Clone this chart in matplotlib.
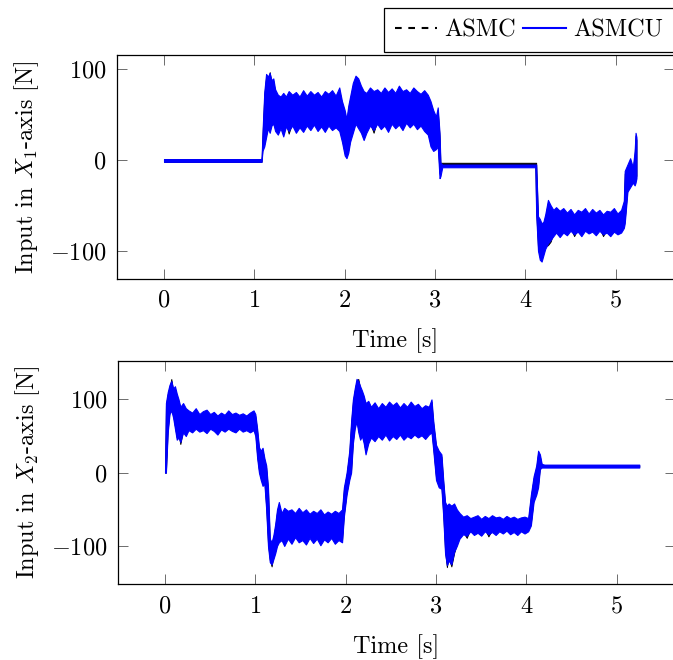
import matplotlib
matplotlib.use('Agg')
import matplotlib.pyplot as plt
from matplotlib.lines import Line2D

plt.rcParams['font.family'] = 'serif'
plt.rcParams['font.serif'] = ['cmr10']
plt.rcParams['mathtext.fontset'] = 'cm'
plt.rcParams['axes.formatter.use_mathtext'] = True
plt.rcParams['axes.unicode_minus'] = True

# ---------------- data (band envelopes) ----------------
# Top panel: input in X1-axis [N]
t_top = [0.00, 1.07, 1.08, 1.09, 1.11,
         1.13, 1.15, 1.17, 1.19, 1.21,
         1.23, 1.26, 1.29, 1.32, 1.35,
         1.38, 1.42, 1.46, 1.50, 1.54,
         1.58, 1.62, 1.66, 1.70, 1.74,
         1.78, 1.82, 1.86, 1.90, 1.94,
         1.97, 2.00, 2.02, 2.04, 2.06,
         2.09, 2.12, 2.15, 2.18, 2.21,
         2.24, 2.28, 2.32, 2.36, 2.40,
         2.44, 2.48, 2.52, 2.56, 2.60,
         2.64, 2.68, 2.72, 2.76, 2.80,
         2.84, 2.88, 2.92, 2.95, 2.98,
         3.01, 3.03, 3.05, 3.06, 3.08,
         4.11, 4.12, 4.14, 4.16, 4.18,
         4.20, 4.22, 4.25, 4.28, 4.31,
         4.34, 4.38, 4.42, 4.46, 4.50,
         4.54, 4.58, 4.62, 4.66, 4.70,
         4.74, 4.78, 4.82, 4.86, 4.90,
         4.94, 4.98, 5.02, 5.06, 5.09,
         5.10, 5.13, 5.16, 5.19, 5.21,
         5.22, 5.23]

asmcu_top_lo = [-2, -2, -2, 10, 15,
                25, 35, 30, 38, 40,
                32, 28, 35, 26, 37,
                32, 38, 30, 36, 31,
                38, 33, 39, 32, 37,
                31, 38, 33, 36, 32,
                20, 5, 2, 8, 20,
                30, 40, 35, 30, 22,
                30, 38, 33, 40, 34,
                38, 31, 40, 35, 39,
                33, 41, 36, 40, 34,
                38, 32, 28, 15, 10,
                12, 15, -20, -18, -8,
                -8, -60, -100, -110, -112,
                -105, -98, -92, -88, -84,
                -80, -85, -80, -83, -78,
                -82, -79, -84, -78, -81,
                -79, -83, -78, -82, -80,
                -84, -79, -82, -80, -75,
                -70, -35, -30, -25, -28,
                -25, -20]
asmcu_top_hi = [1, 1, 1, 30, 75,
                95, 92, 96, 88, 90,
                78, 72, 70, 74, 70,
                76, 72, 75, 70, 77,
                71, 76, 72, 75, 70,
                76, 73, 77, 71, 80,
                65, 55, 45, 60, 70,
                85, 93, 90, 82, 76,
                74, 80, 76, 78, 74,
                80, 75, 79, 74, 82,
                76, 78, 74, 80, 76,
                73, 77, 72, 65, 55,
                48, 58, 30, -3, -5,
                -5, -5, -62, -65, -70,
                -68, -60, -44, -50, -55,
                -52, -56, -53, -58, -54,
                -60, -55, -57, -53, -59,
                -54, -58, -55, -60, -56,
                -57, -53, -59, -55, -45,
                -12, -5, 2, -8, 10,
                30, 25]
asmc_top_lo = [-2, -2, -2, 12, 18,
               28, 38, 33, 41, 43,
               35, 31, 38, 29, 40,
               29, 41, 33, 39, 34,
               41, 36, 42, 35, 40,
               34, 41, 36, 39, 35,
               23, 8, 5, 11, 23,
               33, 43, 38, 33, 25,
               33, 41, 30, 43, 37,
               41, 34, 43, 38, 42,
               36, 44, 39, 43, 37,
               41, 35, 31, 18, 13,
               15, 18, -15, -8, -5,
               -5, -57, -97, -107, -109,
               -102, -95, -94, -90, -81,
               -77, -82, -77, -80, -75,
               -84, -76, -81, -75, -78,
               -76, -80, -75, -84, -77,
               -81, -76, -79, -77, -72,
               -67, -32, -27, -22, -25,
               -22, -17]
asmc_top_hi = [1, 1, 1, 27, 72,
               92, 89, 97, 85, 87,
               75, 69, 67, 71, 67,
               73, 69, 72, 67, 74,
               68, 73, 69, 72, 67,
               73, 70, 74, 68, 77,
               62, 52, 42, 57, 67,
               82, 90, 87, 79, 73,
               71, 77, 73, 75, 71,
               77, 72, 76, 71, 79,
               73, 75, 71, 77, 73,
               70, 74, 69, 62, 52,
               45, 55, 27, -3, -3,
               -3, -3, -65, -68, -73,
               -71, -63, -47, -53, -58,
               -55, -59, -56, -61, -57,
               -63, -58, -60, -56, -62,
               -57, -61, -58, -63, -59,
               -60, -56, -62, -58, -48,
               -15, -8, -1, -11, 7,
               27, 22]

# Bottom panel: input in X2-axis [N]
t_bot = [0.00, 0.01, 0.03, 0.05, 0.07,
         0.09, 0.11, 0.13, 0.15, 0.17,
         0.20, 0.23, 0.26, 0.30, 0.34,
         0.38, 0.42, 0.46, 0.50, 0.54,
         0.58, 0.62, 0.66, 0.70, 0.74,
         0.78, 0.82, 0.86, 0.90, 0.94,
         0.98, 1.00, 1.02, 1.04, 1.06,
         1.08, 1.10, 1.12, 1.14, 1.16,
         1.18, 1.20, 1.22, 1.24, 1.26,
         1.29, 1.32, 1.36, 1.40, 1.44,
         1.48, 1.52, 1.56, 1.60, 1.64,
         1.68, 1.72, 1.76, 1.80, 1.84,
         1.88, 1.92, 1.96, 1.98, 2.01,
         2.04, 2.06, 2.08, 2.10, 2.12,
         2.14, 2.16, 2.18, 2.20, 2.22,
         2.25, 2.28, 2.32, 2.36, 2.40,
         2.44, 2.48, 2.52, 2.56, 2.60,
         2.64, 2.68, 2.72, 2.76, 2.80,
         2.84, 2.88, 2.92, 2.95, 2.97,
         3.00, 3.03, 3.06, 3.08, 3.10,
         3.12, 3.14, 3.17, 3.20, 3.23,
         3.26, 3.30, 3.34, 3.38, 3.42,
         3.46, 3.50, 3.54, 3.58, 3.62,
         3.66, 3.70, 3.74, 3.78, 3.82,
         3.86, 3.90, 3.94, 3.98, 4.02,
         4.05, 4.08, 4.11, 4.13, 4.15,
         4.17, 4.20, 5.25]

asmcu_bot_lo = [0, 0, 55, 80, 85,
                75, 60, 45, 48, 42,
                55, 50, 58, 55, 60,
                56, 58, 54, 60, 57,
                52, 59, 56, 60, 57,
                55, 60, 56, 58, 55,
                58, 50, 20, 0, -10,
                -18, -15, -50, -100, -122,
                -125, -118, -110, -100, -95,
                -92, -100, -90, -97, -88,
                -95, -92, -98, -89, -96,
                -90, -99, -91, -95, -89,
                -97, -92, -95, -60, -30,
                -10, 0, 40, 60, 70,
                55, 45, 50, 40, 25,
                40, 48, 43, 50, 45,
                52, 44, 50, 46, 52,
                45, 50, 47, 52, 48,
                51, 46, 52, 55, 30,
                -10, -20, -22, -60, -110,
                -126, -120, -125, -108, -100,
                -90, -84, -86, -80, -85,
                -82, -86, -80, -84, -81,
                -85, -80, -83, -79, -84,
                -81, -85, -80, -83, -80,
                -72, -40, -30, -20, 5,
                7, 7, 7]
asmcu_bot_hi = [0, 95, 110, 120, 125,
                115, 118, 108, 100, 90,
                95, 88, 85, 82, 88,
                80, 84, 86, 80, 83,
                78, 82, 79, 85, 80,
                82, 79, 81, 78, 82,
                85, 80, 60, 35, 30,
                34, 20, 10, -20, -90,
                -95, -85, -70, -50, -40,
                -55, -48, -52, -50, -55,
                -48, -54, -50, -56, -52,
                -55, -50, -57, -53, -56,
                -52, -55, -50, -20, 0,
                30, 70, 100, 115, 128,
                125, 118, 112, 105, 95,
                98, 90, 96, 88, 95,
                90, 97, 92, 96, 89,
                95, 90, 97, 91, 94,
                88, 92, 90, 100, 70,
                38, 30, 25, -10, -40,
                -45, -42, -45, -42, -50,
                -55, -60, -58, -62, -60,
                -58, -63, -59, -62, -58,
                -61, -60, -63, -59, -62,
                -60, -63, -61, -60, -62,
                -30, -5, 10, 30, 25,
                12, 11, 11]
asmc_bot_lo = [0, 0, 58, 83, 88,
               78, 63, 48, 51, 39,
               58, 53, 61, 58, 63,
               59, 61, 57, 63, 60,
               55, 62, 59, 63, 60,
               58, 63, 59, 61, 58,
               61, 53, 23, 3, -7,
               -15, -12, -47, -97, -119,
               -128, -115, -107, -97, -92,
               -89, -97, -87, -94, -85,
               -92, -89, -95, -86, -93,
               -87, -96, -88, -92, -86,
               -94, -89, -92, -57, -27,
               -7, 3, 43, 63, 73,
               58, 48, 53, 43, 28,
               43, 51, 46, 53, 48,
               55, 47, 53, 49, 55,
               48, 53, 50, 55, 51,
               54, 49, 55, 58, 33,
               -7, -17, -19, -57, -107,
               -129, -117, -128, -110, -97,
               -87, -81, -89, -77, -82,
               -79, -83, -77, -87, -78,
               -82, -77, -80, -76, -81,
               -78, -82, -77, -80, -77,
               -69, -37, -27, -17, 7,
               8, 8, 8]
asmc_bot_hi = [0, 92, 107, 117, 128,
               112, 115, 105, 97, 87,
               92, 85, 82, 79, 85,
               77, 81, 83, 77, 80,
               75, 79, 76, 82, 77,
               79, 76, 78, 75, 79,
               82, 77, 57, 32, 27,
               31, 17, 7, -23, -93,
               -98, -88, -73, -53, -43,
               -58, -51, -55, -53, -58,
               -51, -57, -53, -59, -55,
               -58, -53, -60, -56, -59,
               -55, -58, -53, -23, -3,
               27, 67, 97, 112, 125,
               128, 115, 109, 102, 92,
               95, 87, 93, 85, 92,
               87, 94, 89, 93, 86,
               92, 87, 94, 88, 91,
               85, 89, 87, 97, 67,
               35, 27, 22, -13, -43,
               -48, -45, -48, -45, -53,
               -58, -63, -61, -65, -63,
               -61, -66, -62, -65, -61,
               -64, -63, -66, -62, -65,
               -63, -66, -64, -63, -65,
               -33, -8, 7, 27, 22,
               10, 10, 10]

x_ticks = [0, 1, 2, 3, 4, 5]
top_yticks = [-100, 0, 100]
bot_yticks = [-100, 0, 100]
series_names = ['ASMC', 'ASMCU']
panel_ylabels = [r'Input in $X_1$-axis [N]', r'Input in $X_2$-axis [N]']

# ---------------- figure ----------------
W, H = 673, 660
fig = plt.figure(figsize=(W / 100, H / 100), dpi=100)

ax1 = fig.add_axes([117.3 / W, (H - 278.7) / H, (673.5 - 117.3) / W, (278.7 - 55) / H])
ax2 = fig.add_axes([118.3 / W, (H - 584.3) / H, (674.5 - 118.3) / W, (584.3 - 360.7) / H])

BLUE = '#0000ff'
FS = 17.5

panels = [
    (ax1, t_top, asmc_top_lo, asmc_top_hi, asmcu_top_lo, asmcu_top_hi, (-130.9, 115.8), top_yticks),
    (ax2, t_bot, asmc_bot_lo, asmc_bot_hi, asmcu_bot_lo, asmcu_bot_hi, (-152.3, 152.8), bot_yticks),
]

for i, (ax, t, alo, ahi, ulo, uhi, ylim, yt) in enumerate(panels):
    ax.fill_between(t, alo, ahi, color='black', linewidth=0.6, zorder=2)
    ax.fill_between(t, ulo, uhi, color=BLUE, linewidth=0.8, zorder=3)
    ax.set_xlim(-0.517, 5.64)
    ax.set_ylim(*ylim)
    ax.set_xticks(x_ticks)
    ax.set_yticks(yt)
    ax.tick_params(direction='in', top=True, right=True, length=7.5, width=0.6,
                   labelsize=FS, pad=8, colors='#555555', labelcolor='black')
    for sp in ax.spines.values():
        sp.set_linewidth(0.9)
        sp.set_color('black')
    ax.set_xlabel('Time [s]', fontsize=FS, labelpad=12)
    ax.set_ylabel(panel_ylabels[i], fontsize=FS, labelpad=6)

handles = [Line2D([], [], color='black', lw=1.5, ls=(0, (3.2, 3.2))),
           Line2D([], [], color=BLUE, lw=1.5)]
leg = fig.legend(handles, series_names, loc='upper right',
                 bbox_to_anchor=(674 / W, (H - 8) / H), ncol=2, fontsize=FS,
                 frameon=True, fancybox=False, edgecolor='black', framealpha=1,
                 handlelength=1.75, handletextpad=0.3, columnspacing=0.3,
                 borderpad=0.45, borderaxespad=0)
leg.get_frame().set_linewidth(0.9)

fig.savefig('out.png', dpi=100)
